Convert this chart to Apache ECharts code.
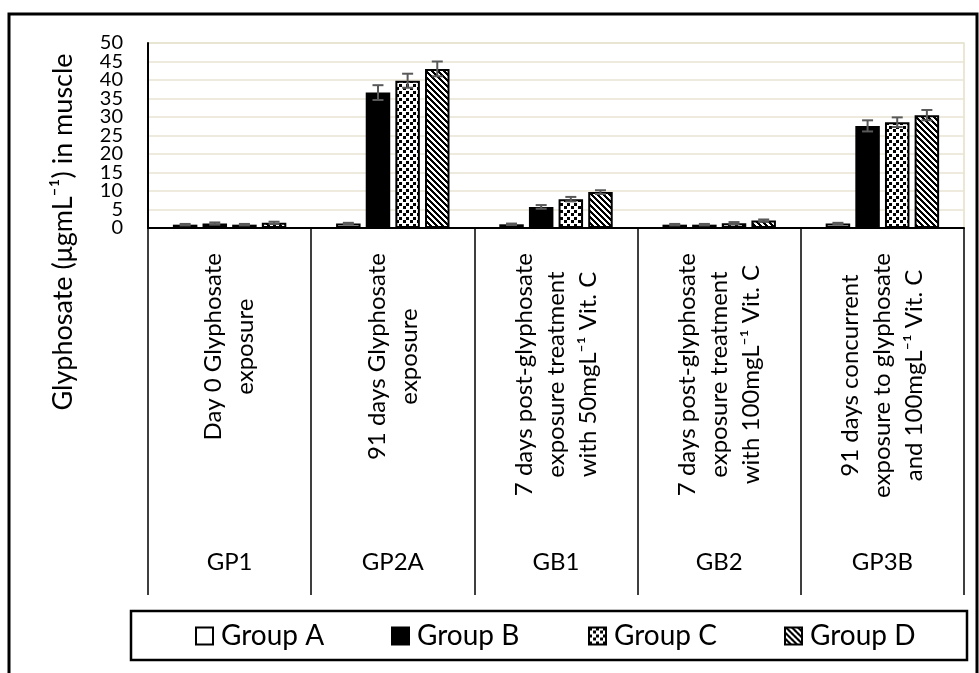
<!DOCTYPE html>
<html><head><meta charset="utf-8">
<script src="https://cdn.jsdelivr.net/npm/echarts@6/dist/echarts.min.js"></script>
<style>html,body{margin:0;padding:0;background:#fff}#c{width:979px;height:673px}</style>
</head><body><div id="c"></div>
<script>
// ---- data ----
const groupCodes = ['GP1', 'GP2A', 'GB1', 'GB2', 'GP3B'];
const groupDescriptions = [
  'Day 0 Glyphosate\nexposure',
  '91 days Glyphosate\nexposure',
  '7 days post-glyphosate\nexposure treatment\nwith 50mgL\u207B\u00B9 Vit. C',
  '7 days post-glyphosate\nexposure treatment\nwith 100mgL\u207B\u00B9 Vit. C',
  '91 days concurrent\nexposure to glyphosate\nand 100mgL\u207B\u00B9 Vit. C'
];
const seriesNames = ['Group A', 'Group B', 'Group C', 'Group D'];
const groupA = [0.9, 1.2, 1.0, 0.9, 1.2];
const groupB = [1.2, 36.6, 5.7, 0.9, 27.6];
const groupC = [0.9, 39.8, 7.8, 1.3, 28.6];
const groupD = [1.4, 43.0, 9.7, 2.0, 30.5];
const errA = [0.2, 0.2, 0.2, 0.2, 0.2];
const errB = [0.3, 2.0, 0.5, 0.2, 1.5];
const errC = [0.2, 1.9, 0.6, 0.3, 1.3];
const errD = [0.3, 2.0, 0.5, 0.3, 1.4];
const yMin = 0, yMax = 50, yStep = 5;
const yTitle = 'Glyphosate (\u03BCgmL\u207B\u00B9) in muscle';

// ---- patterns ----
function dotPattern() {
  const c = document.createElement('canvas'); c.width = 7; c.height = 7;
  const g = c.getContext('2d');
  g.fillStyle = '#fff'; g.fillRect(0, 0, 7, 7);
  g.fillStyle = '#000'; g.fillRect(0, 0, 3, 3); g.fillRect(4, 3, 3, 3);
  return { image: c, repeat: 'repeat' };
}
function stripePattern() {
  const n = 6;
  const c = document.createElement('canvas'); c.width = n; c.height = n;
  const g = c.getContext('2d');
  const img = g.createImageData(n, n);
  for (let y = 0; y < n; y++) for (let x = 0; x < n; x++) {
    const k = (((x - y) % n) + n) % n;
    const v = (k < 3) ? 0 : 255;
    const i = (y * n + x) * 4;
    img.data[i] = v; img.data[i + 1] = v; img.data[i + 2] = v; img.data[i + 3] = 255;
  }
  g.putImageData(img, 0, 0);
  return { image: c, repeat: 'repeat' };
}
const fills = ['#ffffff', '#000000', dotPattern(), stripePattern()];
const values = [groupA, groupB, groupC, groupD];
const errs = [errA, errB, errC, errD];

const FONT = 'Lato';
const barWidth = 24.5, barGapRatio = 0.21;
const barPitch = barWidth * (1 + barGapRatio);

const series = [];
values.forEach((vals, idx) => {
  series.push({
    type: 'bar', name: seriesNames[idx], xAxisIndex: 0, yAxisIndex: 0, data: vals,
    barWidth: barWidth, barGap: (barGapRatio * 100) + '%',
    itemStyle: { color: fills[idx], borderColor: '#000', borderWidth: 2 },
    emphasis: { disabled: true }
  });
});
values.forEach((vals, idx) => {
  series.push({
    type: 'custom', name: 'err' + idx, xAxisIndex: 0, yAxisIndex: 0, z: 10, silent: true,
    data: vals.map((v, i) => [i, v - errs[idx][i], v + errs[idx][i]]),
    renderItem: function (params, api) {
      const x = api.value(0);
      const lo = api.coord([x, api.value(1)]);
      const hi = api.coord([x, api.value(2)]);
      const cx = lo[0] + (idx - 1.5) * barPitch;
      const hw = 5.5;
      const st = { stroke: '#595959', lineWidth: 2 };
      return { type: 'group', children: [
        { type: 'line', shape: { x1: cx, y1: lo[1], x2: cx, y2: hi[1] }, style: st },
        { type: 'line', shape: { x1: cx - hw, y1: lo[1], x2: cx + hw, y2: lo[1] }, style: st },
        { type: 'line', shape: { x1: cx - hw, y1: hi[1], x2: cx + hw, y2: hi[1] }, style: st }
      ]};
    }
  });
});

const legendLefts = [195, 391, 588, 784];
const legends = seriesNames.map((n, i) => ({
  data: [n], left: legendLefts[i], top: 622, padding: 0, icon: 'rect',
  itemWidth: 17, itemHeight: 17, selectedMode: false,
  textStyle: { fontFamily: FONT, fontSize: 28, lineHeight: 28, color: '#000', padding: [0, 0, 0, 3] }
}));

const yLabelStyle = { margin: 25, fontFamily: FONT, fontSize: 20, color: '#000' };

const chart = echarts.init(document.getElementById('c'), null, { renderer: 'canvas' });
chart.setOption({
  animation: false,
  backgroundColor: '#fff',
  grid: { left: 148, right: 15, top: 43, bottom: 445, show: true, borderColor: '#E6E0C6', borderWidth: 1.5 },
  legend: legends,
  xAxis: [
    {
      type: 'category', data: groupDescriptions, position: 'bottom',
      axisLine: { show: true, lineStyle: { color: '#000', width: 2 } },
      axisTick: { show: true, interval: 0, length: 367, lineStyle: { color: '#000', width: 1.5 } },
      axisLabel: {
        interval: 0, rotate: 90, margin: 25, color: '#000',
        formatter: function (v) { return v.split('\n').map(s => '{c|' + s + '}').join('\n'); },
        rich: { c: { align: 'center', fontFamily: FONT, fontSize: 24, lineHeight: 32, color: '#000' } }
      },
      splitLine: { show: false }
    },
    {
      type: 'category', data: groupCodes, position: 'bottom',
      axisLine: { show: false }, axisTick: { show: false },
      axisLabel: { interval: 0, margin: 322, fontFamily: FONT, fontSize: 24, color: '#000' },
      splitLine: { show: false }
    }
  ],
  yAxis: [
    {
      type: 'value', min: yMin, max: yMax, interval: yStep, position: 'left',
      axisLine: { show: true, lineStyle: { color: '#000', width: 2 } },
      axisTick: { show: false },
      axisLabel: Object.assign({}, yLabelStyle, { showMinLabel: true, showMaxLabel: true,
        formatter: v => (v % (2 * yStep) === 0 ? String(v) : '') }),
      splitLine: { show: true, lineStyle: { color: '#E9E5D3', width: 1.5 } }
    },
    {
      type: 'value', min: yMin, max: yMax, interval: yStep, position: 'left', offset: 0,
      axisLine: { show: false }, axisTick: { show: false }, splitLine: { show: false },
      axisLabel: Object.assign({}, yLabelStyle, { showMinLabel: false, showMaxLabel: false,
        formatter: v => (v % (2 * yStep) !== 0 ? String(v) : '') })
    }
  ],
  graphic: [
    { type: 'rect', z: -1, shape: { x: 9, y: 14, width: 968, height: 700 }, style: { fill: 'none', stroke: '#000', lineWidth: 3 } },
    { type: 'rect', z: -1, shape: { x: 131, y: 611, width: 836, height: 49 }, style: { fill: 'none', stroke: '#000', lineWidth: 2.5 } },
    { type: 'text', x: 63, y: 232, rotation: Math.PI / 2,
      style: { text: yTitle, fontFamily: FONT, fontSize: 27, fill: '#000', textAlign: 'center', textVerticalAlign: 'middle' } }
  ],
  series: series
});
</script>
</body></html>
